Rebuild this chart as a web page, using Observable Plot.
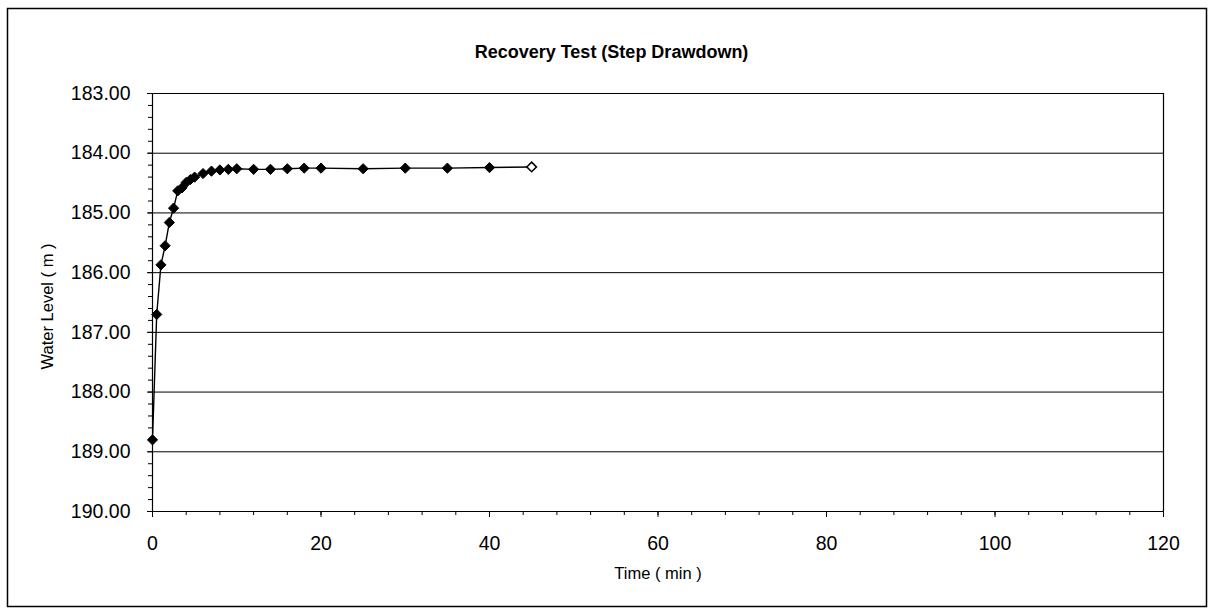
<!DOCTYPE html>
<html>
<head>
<meta charset="utf-8">
<script src="https://cdn.jsdelivr.net/npm/d3@7"></script>
<script src="https://cdn.jsdelivr.net/npm/@observablehq/plot@0.6"></script>
<style>
  html, body { margin: 0; padding: 0; background: #fff; }
  #chart svg { display: block; }
</style>
</head>
<body>
<div id="chart"></div>
<script>
// ---- data ----
const chartTitle = "Recovery Test (Step Drawdown)";
const xLabel = "Time ( min )";
const yLabel = "Water Level ( m )";
const times  = [0, 0.5, 1, 1.5, 2, 2.5, 3, 3.5, 4, 4.5, 5, 6, 7, 8, 9, 10, 12, 14, 16, 18, 20, 25, 30, 35, 40, 45];
const levels = [188.80, 186.70, 185.87, 185.55, 185.16, 184.92, 184.63, 184.58, 184.49, 184.44, 184.40, 184.34, 184.30, 184.28, 184.27, 184.26, 184.27, 184.27, 184.26, 184.25, 184.25, 184.26, 184.25, 184.25, 184.24, 184.23];
const yTicks = [183, 184, 185, 186, 187, 188, 189, 190];
const xTicks = [0, 20, 40, 60, 80, 100, 120];
const yMinor = d3.range(183, 190.001, 0.2);
const xMinor = d3.range(0, 120.001, 4);

const data = times.map((t, i) => ({t, level: levels[i]}));
const last = data.slice(-1);
const font = "'Liberation Sans', Arial, sans-serif";

const W = 1211, H = 616;
const plot = Plot.plot({
  width: W,
  height: H,
  marginLeft: 152,
  marginRight: 48,
  marginTop: 93,
  marginBottom: 105,
  style: {fontFamily: font, background: "white", color: "black", overflow: "visible"},
  x: {domain: [0, 120]},
  y: {domain: [183, 190], reverse: true},
  marks: [
    // horizontal gridlines
    Plot.ruleY(yTicks, {stroke: "black", strokeWidth: 1}),
    // left axis line and right border
    Plot.ruleX([0, 120], {stroke: "black", strokeWidth: 1.2}),
    // minor ticks
    Plot.axisY(yMinor, {tickSize: 4, tickFormat: () => "", label: null, stroke: "black"}),
    Plot.axisX(xMinor, {tickSize: 4, tickFormat: () => "", label: null, stroke: "black"}),
    // major ticks + labels
    Plot.axisY(yTicks, {tickSize: 5, tickPadding: 17, fontSize: 19.5, tickFormat: d => d.toFixed(2), label: null, stroke: "black"}),
    Plot.axisX(xTicks, {tickSize: 6, tickPadding: 19, fontSize: 19.5, tickFormat: d => String(d), label: null, stroke: "black"}),
    // series
    Plot.line(data, {x: "t", y: "level", stroke: "black", strokeWidth: 1.4}),
    Plot.dot(data.slice(0, -1), {x: "t", y: "level", symbol: "diamond2", r: 4.6, fill: "black", stroke: "black", strokeWidth: 1}),
    Plot.dot(last, {x: "t", y: "level", symbol: "diamond2", r: 4.3, fill: "white", stroke: "black", strokeWidth: 1.6}),
    // titles
    Plot.text([chartTitle], {frameAnchor: "top-left", dx: 459, dy: -48, textAnchor: "middle", fontSize: 18, fontWeight: "bold", fill: "black"}),
    Plot.text([xLabel], {frameAnchor: "bottom", dy: 67, fontSize: 16.5, fill: "black"}),
    Plot.text([yLabel], {frameAnchor: "left", dx: -105, dy: 4, rotate: -90, textAnchor: "middle", fontSize: 16.5, fill: "black"})
  ]
});

// outer chart border
d3.select(plot).append("rect")
  .attr("x", 7.5).attr("y", 8.5)
  .attr("width", 1199).attr("height", 598)
  .attr("fill", "none").attr("stroke", "black").attr("stroke-width", 1.5);

document.getElementById("chart").appendChild(plot);
</script>
</body>
</html>
